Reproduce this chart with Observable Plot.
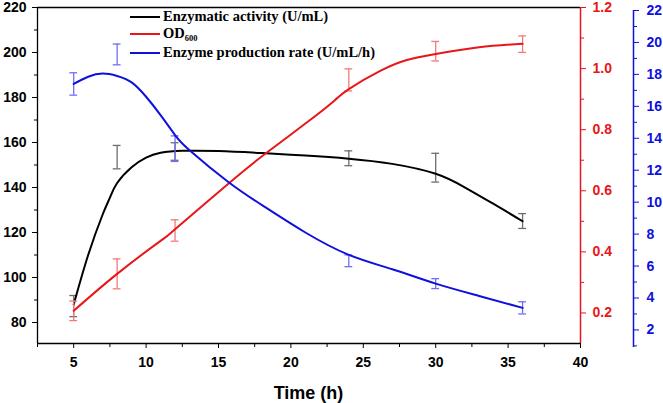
<!DOCTYPE html>
<html>
<head>
<meta charset="utf-8">
<script src="https://cdn.jsdelivr.net/npm/d3@7"></script>
<script src="https://cdn.jsdelivr.net/npm/@observablehq/plot@0.6"></script>
<style>
  body { margin: 0; background: white; }
  #wrap { position: relative; width: 663px; height: 403px; overflow: hidden; }
  #wrap svg { position: absolute; left: 0; top: 0; }
  .legend { position: absolute; left: 130px; font-family: "Liberation Serif", "Times New Roman", serif; font-weight: bold; font-size: 14.5px; color: #000; white-space: nowrap; }
  .legend .sw { display: inline-block; width: 30px; height: 2px; vertical-align: middle; margin-right: 3px; position: relative; top: -1px; }
  .legend sub { font-size: 8.5px; vertical-align: -3px; }
  #xlabel { position: absolute; left: 0; width: 617px; text-align: center; top: 383px; font-family: "Liberation Sans", Arial, sans-serif; font-weight: bold; font-size: 18px; }
</style>
</head>
<body>
<div id="wrap"></div>
<script>
// ---- data ----
const times = [5, 8, 12, 24, 30, 36];
const activity = [87.3, 153.5, 156, 153, 148.8, 125.1];
const activityErr = [4.7, 5.2, 3.9, 3.3, 6.4, 3.3];
const od600 = [0.207, 0.328, 0.47, 0.963, 1.057, 1.08];
const od600Err = [0.032, 0.049, 0.035, 0.036, 0.032, 0.027];
const rate = [17.4, 19.25, 13.35, 6.33, 4.9, 3.38];
const rateErr = [0.7, 0.65, 0.8, 0.37, 0.31, 0.38];

// fitted curves as drawn in the reference
const activityFitT = [5, 6, 7, 7.5, 8, 9, 10, 11, 12.5, 15, 18, 21, 24, 27, 30, 32, 34, 36];
const activityFit = [88, 110, 128, 135.5, 142, 149, 153.3, 155.4, 156.3, 156.2, 155.3, 154.2, 152.8, 150.5, 146.1, 140.1, 132.7, 125];
const odFitT = [5, 8, 11, 12, 15.7, 18.25, 21, 23, 24, 26.2, 28, 30, 33, 36];
const odFit = [0.207, 0.328, 0.436, 0.474, 0.624, 0.722, 0.82, 0.895, 0.933, 0.993, 1.028, 1.048, 1.07, 1.081];
const rateFitT = [5, 6, 7, 8, 9, 10, 11, 12, 13, 15.7, 18.25, 21, 24, 27, 30, 33, 36];
const rateFit = [17.4, 17.85, 18.05, 17.9, 17.5, 16.6, 15.45, 14.2, 13.25, 11.25, 9.67, 8.1, 6.7, 5.8, 4.9, 4.13, 3.38];

// axis ticks
const xTicks = [5, 10, 15, 20, 25, 30, 35, 40];
const xMinorTicks = [2.5, 7.5, 12.5, 17.5, 22.5, 27.5, 32.5, 37.5];
const leftTicks = [80, 100, 120, 140, 160, 180, 200, 220];
const leftMinorTicks = [90, 110, 130, 150, 170, 190, 210];
const odTicks = [0.2, 0.4, 0.6, 0.8, 1.0, 1.2];
const odMinorTicks = [0.3, 0.5, 0.7, 0.9, 1.1];
const rateTicks = [2, 4, 6, 8, 10, 12, 14, 16, 18, 20, 22];
const rateMinorTicks = [1, 3, 5, 7, 9, 11, 13, 15, 17, 19, 21];

const BLACK = "#000000", RED = "#e8161b", BLUE = "#1010dc";
const BLACK_ERR = "#6e6e6e", RED_ERR = "#f27a7a", BLUE_ERR = "#6f6ff0";
const xDomain = [2.5, 40];
const leftDomain = [70.67, 220];
const odDomain = [0.1, 1.2];
const rateDomain = [0.9, 22];

const rows = (vals, errs) => times.map((t, i) => ({t, v: vals[i], e: errs[i]}));
const fitRows = (ts, vs) => ts.map((t, i) => ({t, v: vs[i]}));

function errorBars(data, color) {
  return [
    Plot.ruleX(data, {x: "t", y1: d => d.v - d.e, y2: d => d.v + d.e, stroke: color, strokeWidth: 1.3}),
    Plot.ruleY(data, {y: d => d.v + d.e, x1: d => d.t - 0.27, x2: d => d.t + 0.27, stroke: color, strokeWidth: 1.3}),
    Plot.ruleY(data, {y: d => d.v - d.e, x1: d => d.t - 0.27, x2: d => d.t + 0.27, stroke: color, strokeWidth: 1.3})
  ];
}

const baseStyle = {background: "transparent", overflow: "visible", fontFamily: "'Liberation Sans', Arial, sans-serif", fontWeight: "bold", fontSize: "14px"};
const common = {width: 663, height: 403, marginLeft: 37, marginRight: 83, marginTop: 7, marginBottom: 60, style: baseStyle};

// Plot 1: enzymatic activity, left axis, time axis
const p1 = Plot.plot({
  ...common,
  x: {domain: xDomain},
  y: {domain: leftDomain},
  marks: [
    Plot.axisX({ticks: xTicks, tickSize: 5, tickPadding: 9, label: null, fontSize: 14}),
    Plot.axisX({ticks: xMinorTicks, tickSize: 4, tickFormat: () => "", label: null}),
    Plot.axisY({ticks: leftTicks, tickSize: 5, tickPadding: 6, label: null, fontSize: 14}),
    Plot.axisY({ticks: leftMinorTicks, tickSize: 3, tickFormat: () => "", label: null}),
    Plot.ruleX([xDomain[0]], {stroke: BLACK, strokeWidth: 1.3}),
    Plot.ruleY([leftDomain[0]], {stroke: BLACK, strokeWidth: 1.3}),
    Plot.ruleY([leftDomain[1]], {stroke: BLACK, strokeWidth: 1.3}),
    ...errorBars(rows(activity, activityErr), BLACK_ERR),
    Plot.line(fitRows(activityFitT, activityFit), {x: "t", y: "v", stroke: BLACK, strokeWidth: 2, curve: "natural"})
  ]
});

// Plot 2: OD600, right red axis
const p2 = Plot.plot({
  ...common,
  x: {domain: xDomain, axis: null},
  y: {domain: odDomain},
  marks: [
    Plot.axisY({anchor: "right", ticks: odTicks, tickSize: 5, tickPadding: 7, tickFormat: d3.format(".1f"), label: null, color: RED, fontSize: 14}),
    Plot.axisY({anchor: "right", ticks: odMinorTicks, tickSize: 3, tickFormat: () => "", label: null, color: RED}),
    Plot.ruleX([xDomain[1]], {stroke: RED, strokeWidth: 1.5}),
    ...errorBars(rows(od600, od600Err), RED_ERR),
    Plot.line(fitRows(odFitT, odFit), {x: "t", y: "v", stroke: RED, strokeWidth: 2, curve: "natural"})
  ]
});

// Plot 3: enzyme production rate (blue scale)
const p3 = Plot.plot({
  ...common,
  marginTop: 10, marginBottom: 56,
  x: {domain: xDomain, axis: null},
  y: {domain: rateDomain, axis: null},
  marks: [
    ...errorBars(rows(rate, rateErr), BLUE_ERR),
    Plot.line(fitRows(rateFitT, rateFit), {x: "t", y: "v", stroke: BLUE, strokeWidth: 2, curve: "natural"})
  ]
});

// Plot 4: offset blue axis
const p4 = Plot.plot({
  width: 663, height: 403, marginLeft: 37, marginRight: 30, marginTop: 10, marginBottom: 56, style: baseStyle,
  x: {domain: [0, 1], axis: null},
  y: {domain: rateDomain},
  marks: [
    Plot.axisY({anchor: "right", ticks: rateTicks, tickSize: 5, tickPadding: 8, label: null, color: BLUE, fontSize: 14}),
    Plot.axisY({anchor: "right", ticks: rateMinorTicks, tickSize: 3, tickFormat: () => "", label: null, color: BLUE}),
    Plot.ruleX([1], {stroke: BLUE, strokeWidth: 1.5})
  ]
});

const wrap = document.getElementById("wrap");
[p1, p2, p3, p4].forEach(p => wrap.appendChild(p));

// legend and x label
const legendItems = [
  {color: BLACK, html: "Enzymatic activity (U/mL)", top: 8},
  {color: RED, html: "OD<sub>600</sub>", top: 25},
  {color: BLUE, html: "Enzyme production rate (U/mL/h)", top: 44}
];
legendItems.forEach(it => {
  const d = document.createElement("div");
  d.className = "legend";
  d.style.top = it.top + "px";
  d.innerHTML = `<span class="sw" style="background:${it.color}"></span>${it.html}`;
  wrap.appendChild(d);
});
const xl = document.createElement("div");
xl.id = "xlabel";
xl.textContent = "Time (h)";
wrap.appendChild(xl);
</script>
</body>
</html>
